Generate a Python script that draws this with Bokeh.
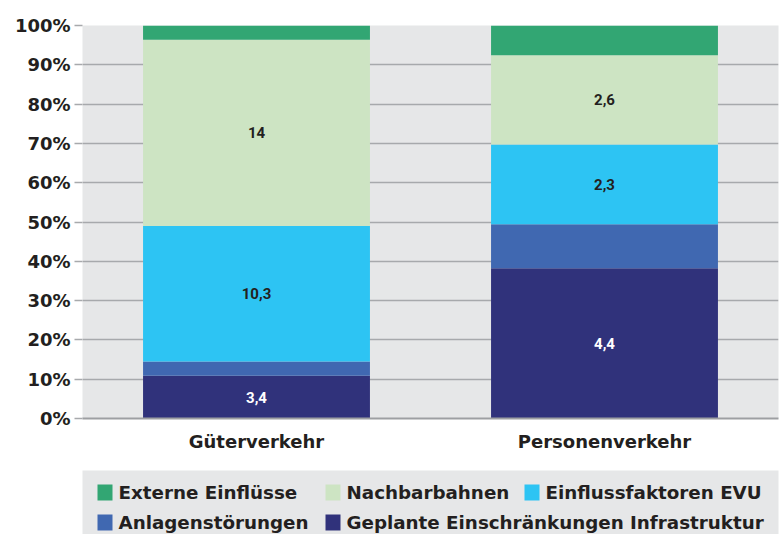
from bokeh.plotting import figure
from bokeh.models import ColumnDataSource, Range1d, FactorRange, PrintfTickFormatter, FixedTicker
from bokeh.layouts import column
from bokeh.core.properties import value
from bokeh.embed import file_html
from bokeh.resources import INLINE

# ---------------- data ----------------
categories = ["Güterverkehr", "Personenverkehr"]
series_names = ["Geplante Einschränkungen Infrastruktur", "Anlagenstörungen",
                "Einflussfaktoren EVU", "Nachbarbahnen", "Externe Einflüsse"]
series_keys = ["geplante", "anlagen", "evu", "nachbar", "extern"]
colors = ["#30327b", "#4068b1", "#2dc4f3", "#cde4c3", "#32a673"]

# shares in percent
geplante = [10.9, 38.2]
anlagen = [3.6, 11.2]
evu = [34.5, 20.3]
nachbar = [47.4, 22.7]
extern = [3.6, 7.6]

# value labels printed on the segments
label_geplante = ["3,4", "4,4"]
label_evu = ["10,3", "2,3"]
label_nachbar = ["14", "2,6"]

y_ticks = [0, 10, 20, 30, 40, 50, 60, 70, 80, 90, 100]

# legend layout (two rows as in the original)
legend_rows = [["Externe Einflüsse", "Nachbarbahnen", "Einflussfaktoren EVU"],
               ["Anlagenstörungen", "Geplante Einschränkungen Infrastruktur"]]

FONT = "DejaVu Sans"
LABEL_FONT = "Roboto"
DARK = "#231f20"
BG = "#e6e7e8"
GRID = "#a7a9ac"

W = 782
LEFT = 82
RIGHT = 4

# ---------------- main chart ----------------
data = {"cat": categories, "geplante": geplante, "anlagen": anlagen,
        "evu": evu, "nachbar": nachbar, "extern": extern}
source = ColumnDataSource(data)

p = figure(x_range=FactorRange(*categories, range_padding=0), y_range=Range1d(0, 100),
           width=W, height=470, output_backend="svg", toolbar_location=None,
           min_border_left=LEFT, min_border_right=RIGHT, min_border_top=25, min_border_bottom=52)
p.background_fill_color = BG
p.border_fill_color = "white"
p.outline_line_color = None

p.vbar_stack(series_keys, x="cat", width=0.652, color=colors, line_color=None, source=source)

# segment labels
def centers(bottom_lists, values):
    out = []
    for i in range(len(values)):
        b = sum(bl[i] for bl in bottom_lists)
        out.append(b + values[i] / 2.0)
    return out

lab_src = ColumnDataSource(dict(
    x=categories * 3,
    y=centers([], geplante) + centers([geplante, anlagen], evu) + centers([geplante, anlagen, evu], nachbar),
    t=label_geplante + label_evu + label_nachbar,
    c=["white"] * 2 + [DARK] * 4,
))
p.text(x="x", y="y", text="t", text_color="c", source=lab_src, text_align="center",
       text_baseline="middle", text_font=value(LABEL_FONT), text_font_style="bold",
       text_font_size="15px")

p.xgrid.grid_line_color = None
p.ygrid.ticker = FixedTicker(ticks=y_ticks)
p.ygrid.grid_line_color = GRID
p.ygrid.grid_line_width = 1.5

ya = p.yaxis[0]
ya.ticker = FixedTicker(ticks=y_ticks)
ya.formatter = PrintfTickFormatter(format="%d%%")
ya.axis_line_color = None
ya.major_tick_line_color = GRID
ya.major_tick_line_width = 1.5
ya.major_tick_out = 8
ya.major_tick_in = 0
ya.minor_tick_line_color = None
ya.major_label_standoff = 4
ya.major_label_text_font = FONT
ya.major_label_text_font_style = "bold"
ya.major_label_text_font_size = "18px"
ya.major_label_text_color = DARK

xa = p.xaxis[0]
xa.axis_line_color = "#9d9fa2"
xa.axis_line_width = 2
xa.major_tick_line_color = None
xa.minor_tick_line_color = None
xa.major_label_standoff = 6
xa.major_label_text_font = FONT
xa.major_label_text_font_style = "bold"
xa.major_label_text_font_size = "18px"
xa.major_label_text_color = DARK

# ---------------- legend ----------------
LW, LH = W - LEFT - RIGHT, 64
lg = figure(width=W, height=LH, x_range=Range1d(0, LW), y_range=Range1d(LH, 0),
            output_backend="svg", toolbar_location=None, min_border=0,
            min_border_left=LEFT, min_border_right=RIGHT)
lg.axis.visible = False
lg.grid.visible = False
lg.outline_line_color = None
lg.background_fill_color = BG
lg.border_fill_color = "white"

col_x = [15, 243, 442]
row_y = [22, 52]
color_of = dict(zip(series_names, colors))
sq = dict(x=[], y=[], c=[])
tx = dict(x=[], y=[], t=[])
for r, row in enumerate(legend_rows):
    for ci, name in enumerate(row):
        sq["x"].append(col_x[ci] + 7.5)
        sq["y"].append(row_y[r])
        sq["c"].append(color_of[name])
        tx["x"].append(col_x[ci] + 21)
        tx["y"].append(row_y[r])
        tx["t"].append(name)
lg.rect(x="x", y="y", width=15, height=16, color="c", line_color=None, source=ColumnDataSource(sq))
lg.text(x="x", y="y", text="t", source=ColumnDataSource(tx), text_align="left",
        text_baseline="middle", text_font=value(FONT), text_font_style="bold",
        text_font_size="18.3px", text_color=DARK)

layout = column(p, lg, spacing=0)
open("out.html", "w").write(file_html(layout, INLINE))
